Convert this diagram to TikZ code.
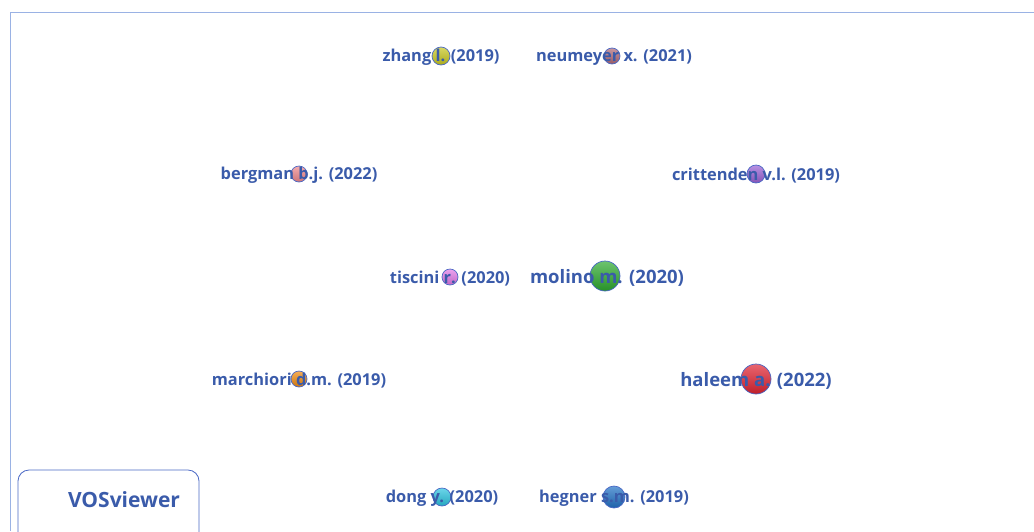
\documentclass[tikz,border=0pt]{standalone}
\usepackage{fontspec}
\setmainfont{Open Sans}
\usepackage{tikz}

\definecolor{vosblue}{HTML}{3A5BAA}
\definecolor{vosedge}{HTML}{4A68C4}
\definecolor{vosframe}{HTML}{9AB2E4}
\definecolor{cyellow}{HTML}{C8C820}
\definecolor{crose}{HTML}{B06A78}
\definecolor{csalmon}{HTML}{F0888C}
\definecolor{cpurple}{HTML}{9A62D6}
\definecolor{cpink}{HTML}{E27AE8}
\definecolor{cgreen}{HTML}{2EAA30}
\definecolor{corange}{HTML}{F08A10}
\definecolor{cred}{HTML}{E02432}
\definecolor{ccyan}{HTML}{2CC4E0}
\definecolor{cblue}{HTML}{2272C6}
\tikzset{item/.style={circle, draw=vosedge, line width=0.7pt, inner sep=0pt, minimum size=#1},
         lbl/.style={text=vosblue, inner sep=0pt, yshift=-1.5pt, font=\bfseries\fontsize{16.4}{17}\selectfont},
         biglbl/.style={lbl, font=\bfseries\fontsize{18.5}{19}\selectfont},
         fillshade/.style={top color=#1!70!white, bottom color=#1!85!black}}

\begin{document}
\begin{tikzpicture}[x=1pt, y=-1pt]
  \useasboundingbox (0,0) rectangle (1034,531);
  \draw[vosframe, line width=0.8pt] (1034,12) -- (10,12) -- (10,531);
  % documents: circle first, label over it
  \node[item=18pt, fillshade=cyellow] (zhang) at (441,56) {};
  \node[lbl] (zhanglbl) at (zhang) {zhang l. (2019)};
  \node[item=16pt, fillshade=crose] (neumeyer) at (612,56) {};
  \node[lbl, xshift=2pt] (neumeyerlbl) at (neumeyer) {neumeyer x. (2021)};
  \node[item=16pt, fillshade=csalmon] (bergman) at (299,174) {};
  \node[lbl] (bergmanlbl) at (bergman) {bergman b.j. (2022)};
  \node[item=18pt, fillshade=cpurple] (crittenden) at (756,174) {};
  \node[lbl] (crittendenlbl) at (crittenden) {crittenden v.l. (2019)};
  \node[item=16pt, fillshade=cpink] (tiscini) at (450,277) {};
  \node[lbl] (tiscinilbl) at (tiscini) {tiscini r. (2020)};
  \node[item=30pt, fillshade=cgreen] (molino) at (605,276) {};
  \node[biglbl, xshift=2pt] (molinolbl) at (molino) {molino m. (2020)};
  \node[item=16pt, fillshade=corange] (marchiori) at (299,379) {};
  \node[lbl] (marchiorilbl) at (marchiori) {marchiori d.m. (2019)};
  \node[item=30pt, fillshade=cred] (haleem) at (756,379) {};
  \node[biglbl] (haleemlbl) at (haleem) {haleem a. (2022)};
  \node[item=18pt, fillshade=ccyan] (dong) at (442,497) {};
  \node[lbl] (donglbl) at (dong) {dong y. (2020)};
  \node[item=22pt, fillshade=cblue] (hegner) at (614,497) {};
  \node[lbl] (hegnerlbl) at (hegner) {hegner s.m. (2019)};
  % logo box
  \draw[vosedge, line width=0.8pt, rounded corners=11pt] (18,545) -- (18,470) -- (199,470) -- (199,545);
  \node[lbl, yshift=1.5pt, font=\bfseries\fontsize{21}{22}\selectfont] (logo) at (124,500) {VOSviewer};
\end{tikzpicture}
\end{document}
